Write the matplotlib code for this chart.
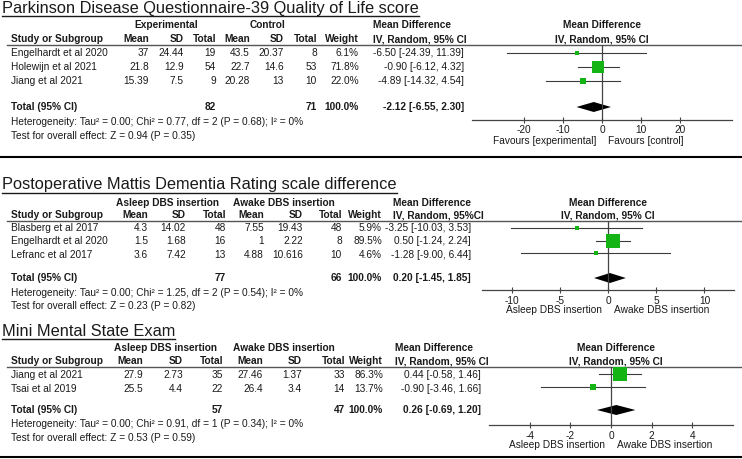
import matplotlib
matplotlib.use("Agg")
import matplotlib.pyplot as plt

plt.rcParams["font.family"] = ["Liberation Sans", "DejaVu Sans"]

W, H = 742, 459
TXT = "#1a1a1a"
GREEN = "#14b414"
LINE = "#3c3c3c"
FS = 7.3

# ---- dados: PDQ-39
titulo1 = "Parkinson Disease Questionnaire-39 Quality of Life score"
estudos1 = ["Engelhardt et al 2020", "Holewijn et al 2021", "Jiang et al 2021"]
media_a1 = ["37", "21.8", "15.39"]
dp_a1 = ["24.44", "12.9", "7.5"]
n_a1 = [19, 54, 9]
media_b1 = ["43.5", "22.7", "20.28"]
dp_b1 = ["20.37", "14.6", "13"]
n_b1 = [8, 53, 10]
peso1 = [6.1, 71.8, 22.0]
md1 = [-6.50, -0.90, -4.89]
li1 = [-24.39, -6.12, -14.32]
ls1 = [11.39, 4.32, 4.54]
total1 = [-2.12, -6.55, 2.30]
ntot1 = [82, 71]
het1 = "Heterogeneity: Tau² = 0.00; Chi² = 0.77, df = 2 (P = 0.68); I² = 0%"
teste1 = "Test for overall effect: Z = 0.94 (P = 0.35)"
grupos1 = ["Experimental", "Control"]
favor1 = ["Favours [experimental]", "Favours [control]"]
ticks1 = [-20, -10, 0, 10, 20]

# ---- dados: Mattis DRS
titulo2 = "Postoperative Mattis Dementia Rating scale difference"
estudos2 = ["Blasberg et al 2017", "Engelhardt et al 2020", "Lefranc et al 2017"]
media_a2 = ["4.3", "1.5", "3.6"]
dp_a2 = ["14.02", "1.68", "7.42"]
n_a2 = [48, 16, 13]
media_b2 = ["7.55", "1", "4.88"]
dp_b2 = ["19.43", "2.22", "10.616"]
n_b2 = [48, 8, 10]
peso2 = [5.9, 89.5, 4.6]
md2 = [-3.25, 0.50, -1.28]
li2 = [-10.03, -1.24, -9.00]
ls2 = [3.53, 2.24, 6.44]
total2 = [0.20, -1.45, 1.85]
ntot2 = [77, 66]
het2 = "Heterogeneity: Tau² = 0.00; Chi² = 1.25, df = 2 (P = 0.54); I² = 0%"
teste2 = "Test for overall effect: Z = 0.23 (P = 0.82)"
grupos2 = ["Asleep DBS insertion", "Awake DBS insertion"]
favor2 = ["Asleep DBS insertion", "Awake DBS insertion"]
ticks2 = [-10, -5, 0, 5, 10]

# ---- dados: MMSE
titulo3 = "Mini Mental State Exam"
estudos3 = ["Jiang et al 2021", "Tsai et al 2019"]
media_a3 = ["27.9", "25.5"]
dp_a3 = ["2.73", "4.4"]
n_a3 = [35, 22]
media_b3 = ["27.46", "26.4"]
dp_b3 = ["1.37", "3.4"]
n_b3 = [33, 14]
peso3 = [86.3, 13.7]
md3 = [0.44, -0.90]
li3 = [-0.58, -3.46]
ls3 = [1.46, 1.66]
total3 = [0.26, -0.69, 1.20]
ntot3 = [57, 47]
het3 = "Heterogeneity: Tau² = 0.00; Chi² = 0.91, df = 1 (P = 0.34); I² = 0%"
teste3 = "Test for overall effect: Z = 0.53 (P = 0.59)"
grupos3 = ["Asleep DBS insertion", "Awake DBS insertion"]
favor3 = ["Asleep DBS insertion", "Awake DBS insertion"]
ticks3 = [-4, -2, 0, 2, 4]

fig = plt.figure(figsize=(W / 100, H / 100), dpi=100)
bg = fig.add_axes([0, 0, 1, 1])
bg.set_xlim(0, W)
bg.set_ylim(H, 0)
bg.axis("off")


def texto(x, y, s, ha="left", bold=False, size=FS):
    bg.text(x, y, s, ha=ha, va="center", fontsize=size, color=TXT,
            fontweight="bold" if bold else "normal")


def painel(d, lay):
    # titulo sublinhado
    t = bg.text(2, lay["ty"], d["titulo"], ha="left", va="center", fontsize=11.8, color=TXT)
    fig.canvas.draw()
    bb = t.get_window_extent()
    bg.plot([2, 2 + bb.width], [lay["ty"] + 8, lay["ty"] + 8], color=TXT, lw=1)

    col = lay["cols"]
    h1, h2 = lay["hy"]
    texto(lay["g"][0], h1, d["grupos"][0], ha="center", bold=True)
    texto(lay["g"][1], h1, d["grupos"][1], ha="center", bold=True)
    texto(lay["mdx"], h1, "Mean Difference", bold=True)
    texto(lay["mdx"], h2, lay["mdlab"], bold=True)
    texto(lay["zx"], h1, "Mean Difference", ha="center", bold=True)
    texto(lay["zx"], h2, "IV, Random, 95% CI", ha="center", bold=True)
    texto(11, h2, "Study or Subgroup", bold=True)
    for x, s in zip(col, ["Mean", "SD", "Total", "Mean", "SD", "Total", "Weight"]):
        texto(x, h2, s, ha="right", bold=True)
    bg.plot([7, W], [lay["line"], lay["line"]], color="#555555", lw=1)

    for i, y in enumerate(lay["rows"]):
        texto(11, y, d["estudos"][i])
        vals = [d["ma"][i], d["da"][i], d["na"][i], d["mb"][i], d["db"][i], d["nb"][i],
                f"{d['peso'][i]:.1f}%"]
        for x, v in zip(col, vals):
            texto(x, y, str(v), ha="right")
        texto(lay["mdr"], y, f"{d['md'][i]:.2f} [{d['li'][i]:.2f}, {d['ls'][i]:.2f}]", ha="right")

    yt = lay["tot"]
    texto(11, yt, "Total (95% CI)", bold=True)
    texto(col[2], yt, str(d["ntot"][0]), ha="right", bold=True)
    texto(col[5], yt, str(d["ntot"][1]), ha="right", bold=True)
    texto(col[6], yt, "100.0%", ha="right", bold=True)
    m, lo, hi = d["total"]
    texto(lay["mdr"], yt, f"{m:.2f} [{lo:.2f}, {hi:.2f}]", ha="right", bold=True)
    texto(11, lay["het"], d["het"])
    texto(11, lay["teste"], d["teste"])

    # forest
    L, R, T, B = lay["box"]
    xl = lay["xlim"]
    ax = fig.add_axes([L / W, 1 - B / H, (R - L) / W, (B - T) / H])
    ax.set_xlim(-xl, xl)
    ax.set_ylim(B, T)
    ax.patch.set_alpha(0)
    for s in ["top", "left", "right"]:
        ax.spines[s].set_visible(False)
    ax.spines["bottom"].set_color("#444444")
    ax.spines["bottom"].set_linewidth(0.9)
    ax.set_yticks([])
    ax.set_xticks(d["ticks"])
    ax.set_xticklabels([str(v) for v in d["ticks"]])
    ax.tick_params(axis="x", direction="inout", length=5, width=0.8, color="#444444",
                   labelsize=FS, labelcolor=TXT, pad=1.5)
    ax.axvline(0, color="#444444", lw=0.9)
    for i, y in enumerate(lay["mrows"]):
        ax.plot([d["li"][i], d["ls"][i]], [y, y], color=LINE, lw=0.8)
        lado = 1.43 * d["peso"][i] ** 0.5
        ax.plot(d["md"][i], y, marker="s", ms=lado * 0.72, color=GREEN, mec=GREEN, mew=0)
    ax.fill([lo, m, hi, m], [yt, yt - 5, yt, yt + 5], color="black", lw=0)

    zpx = L + (R - L) / 2
    texto(zpx - 6, lay["fy"], d["favor"][0], ha="right")
    texto(zpx + 6, lay["fy"], d["favor"][1])


painel(dict(titulo=titulo1, estudos=estudos1, ma=media_a1, da=dp_a1, na=n_a1,
            mb=media_b1, db=dp_b1, nb=n_b1, peso=peso1, md=md1, li=li1, ls=ls1,
            total=total1, ntot=ntot1, het=het1, teste=teste1, grupos=grupos1,
            favor=favor1, ticks=ticks1),
       dict(ty=8, hy=(25, 39), line=45, g=(166, 267),
            cols=[149, 184, 216, 250, 284, 317, 359],
            mdx=373, mdr=464, mdlab="IV, Random, 95% CI", zx=602,
            rows=[53, 67, 81], mrows=[52.5, 66.5, 80.5], tot=107, het=122, teste=136,
            box=(472, 732, 45, 119.5), xlim=33.35, fy=141))

painel(dict(titulo=titulo2, estudos=estudos2, ma=media_a2, da=dp_a2, na=n_a2,
            mb=media_b2, db=dp_b2, nb=n_b2, peso=peso2, md=md2, li=li2, ls=ls2,
            total=total2, ntot=ntot2, het=het2, teste=teste2, grupos=grupos2,
            favor=favor2, ticks=ticks2),
       dict(ty=185, hy=(203, 215), line=221, g=(168, 284),
            cols=[148, 186, 226, 264, 303, 342, 382],
            mdx=393, mdr=471, mdlab="IV, Random, 95%CI", zx=608,
            rows=[228, 241, 254.5], mrows=[227.5, 240.5, 253], tot=278, het=293, teste=306,
            box=(482, 734, 221, 290), xlim=13.07, fy=310))

painel(dict(titulo=titulo3, estudos=estudos3, ma=media_a3, da=dp_a3, na=n_a3,
            mb=media_b3, db=dp_b3, nb=n_b3, peso=peso3, md=md3, li=li3, ls=ls3,
            total=total3, ntot=ntot3, het=het3, teste=teste3, grupos=grupos3,
            favor=favor3, ticks=ticks3),
       dict(ty=331, hy=(348, 361), line=367, g=(165, 284),
            cols=[143, 183, 223, 263, 302, 345, 383],
            mdx=395, mdr=481, mdlab="IV, Random, 95% CI", zx=616,
            rows=[375, 388.5], mrows=[374, 387], tot=410, het=424, teste=438,
            box=(489, 733, 367, 425), xlim=6.0, fy=445))

# separadores
bg.plot([0, W], [156.5, 156.5], color="black", lw=1.5)
bg.plot([0, W], [457, 457], color="black", lw=1.5)

fig.savefig("out.png", dpi=100)
